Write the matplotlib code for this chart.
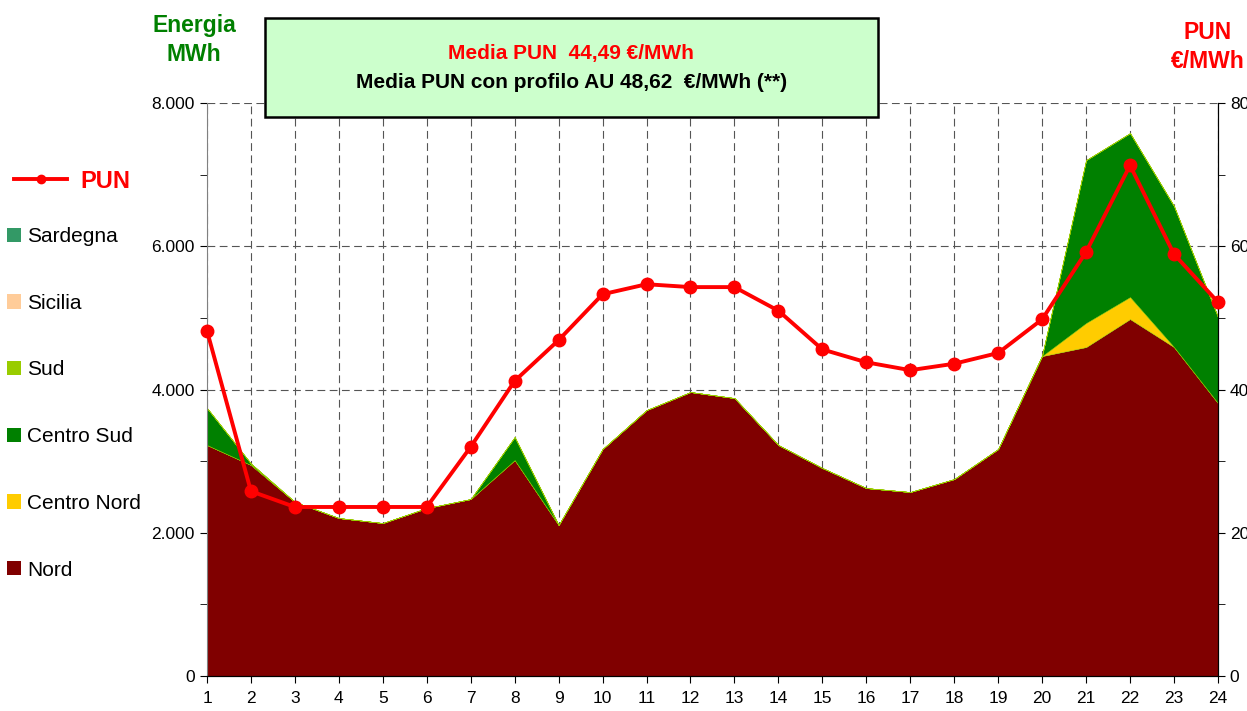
import matplotlib
matplotlib.use("Agg")
import matplotlib.pyplot as plt
from matplotlib.lines import Line2D
from matplotlib.patches import Patch
from matplotlib.ticker import FuncFormatter, MultipleLocator

plt.rcParams['font.family'] = ['Liberation Sans', 'DejaVu Sans']

# hourly data
ore = list(range(1, 25))
nord = [3225, 2946, 2430, 2206, 2136, 2345, 2471, 3015, 2108, 3169, 3713, 3965,
        3881, 3225, 2904, 2624, 2569, 2750, 3169, 4467, 4593, 4984, 4593, 3811]
centro_nord = [0, 0, 0, 0, 0, 0, 0, 0, 0, 0, 0, 0,
               0, 0, 0, 0, 0, 0, 0, 0, 335, 307, 0, 0]
centro_sud = [517, 20, 0, 0, 0, 0, 0, 322, 0, 0, 0, 0,
              0, 0, 0, 0, 0, 0, 0, 10, 2275, 2289, 1968, 1201]
sud = [0] * 24
sicilia = [0] * 24
sardegna = [0] * 24
pun = [48.2, 25.8, 23.6, 23.6, 23.6, 23.6, 32.0, 41.2, 46.9, 53.3, 54.7, 54.3,
       54.3, 51.0, 45.6, 43.8, 42.7, 43.6, 45.1, 49.8, 59.2, 71.3, 58.9, 52.2]

zone = ['Nord', 'Centro Nord', 'Centro Sud', 'Sud', 'Sicilia', 'Sardegna']
colori = ['#800000', '#FFCC00', '#008000', '#99CC00', '#FFCC99', '#339966']

fig = plt.figure(figsize=(12.47, 7.11), dpi=100)
ax = fig.add_axes([0.166, 0.0492, 0.8107, 0.8059])

ax.stackplot(ore, nord, centro_nord, centro_sud, sud, sicilia, sardegna,
             colors=colori, linewidth=0.3, edgecolor='#99CC00', zorder=2)
ax.set_xlim(1, 24)
ax.set_ylim(0, 8000)
ax.set_xticks(ore)
ax.yaxis.set_major_locator(MultipleLocator(2000))
ax.yaxis.set_minor_locator(MultipleLocator(1000))
ax.yaxis.set_major_formatter(FuncFormatter(lambda v, p: f"{int(v):,}".replace(",", ".")))
ax.grid(True, which='major', linestyle=(0, (7, 4)), color='#555555', linewidth=0.8, zorder=1)
ax.set_axisbelow(True)
ax.tick_params(axis='both', which='both', direction='out', labelsize=12.5, length=5)
ax.tick_params(axis='y', which='both', pad=4)
ax.tick_params(axis='x', pad=6)
ax.spines['top'].set_visible(False)
ax.spines['left'].set_color('#808080')

ax2 = ax.twinx()
ax2.plot(ore, pun, color='#FF0000', linewidth=2.8, marker='o', markersize=9, zorder=5,
         clip_on=False)
ax2.set_ylim(0, 80)
ax2.yaxis.set_major_locator(MultipleLocator(20))
ax2.yaxis.set_minor_locator(MultipleLocator(10))
ax2.tick_params(axis='y', which='both', direction='out', labelsize=12.5, length=5)
ax2.spines['top'].set_visible(False)
ax2.spines['left'].set_visible(False)

# axis titles
fig.text(194 / 1247, 1 - 40 / 711, "Energia\nMWh", color='#008000', fontsize=16.5,
         fontweight='bold', ha='center', va='center', linespacing=1.3)
fig.text(1208 / 1247, 1 - 47 / 711, "PUN\n€/MWh", color='#FF0000', fontsize=16.5,
         fontweight='bold', ha='center', va='center', linespacing=1.3)

# box with averages
fig.patches.append(plt.Rectangle((265 / 1247, 1 - 117 / 711), 613 / 1247, 99 / 711,
                                 transform=fig.transFigure, facecolor='#CCFFCC',
                                 edgecolor='black', linewidth=1.8, zorder=10))
fig.text(571 / 1247, 1 - 54 / 711, "Media PUN  44,49 €/MWh", color='#FF0000',
         fontsize=15, fontweight='bold', ha='center', va='center', zorder=11)
fig.text(572 / 1247, 1 - 82 / 711, "Media PUN con profilo AU 48,62  €/MWh (**)",
         color='black', fontsize=15, fontweight='bold', ha='center', va='center', zorder=11)

# legends
leg1 = fig.legend(handles=[Line2D([], [], color='#FF0000', linewidth=2.8, marker='o',
                                  markersize=6)],
                  labels=['PUN'], loc='center left', bbox_to_anchor=(14 / 1247, 1 - 181 / 711),
                  frameon=False, handlelength=2.25, handletextpad=0.55,
                  prop={'size': 17, 'weight': 'bold'}, borderaxespad=0, borderpad=0)
for t in leg1.get_texts():
    t.set_color('#FF0000')

handles = [Patch(facecolor=c) for c in colori[::-1]]
fig.legend(handles=handles, labels=zone[::-1], loc='upper left',
           bbox_to_anchor=(0.0055, 1 - 227 / 711), frameon=False, fontsize=15,
           handlelength=0.68, handleheight=0.68, handletextpad=0.3, labelspacing=2.29,
           borderaxespad=0, borderpad=0)

fig.savefig("out.png", dpi=100)
